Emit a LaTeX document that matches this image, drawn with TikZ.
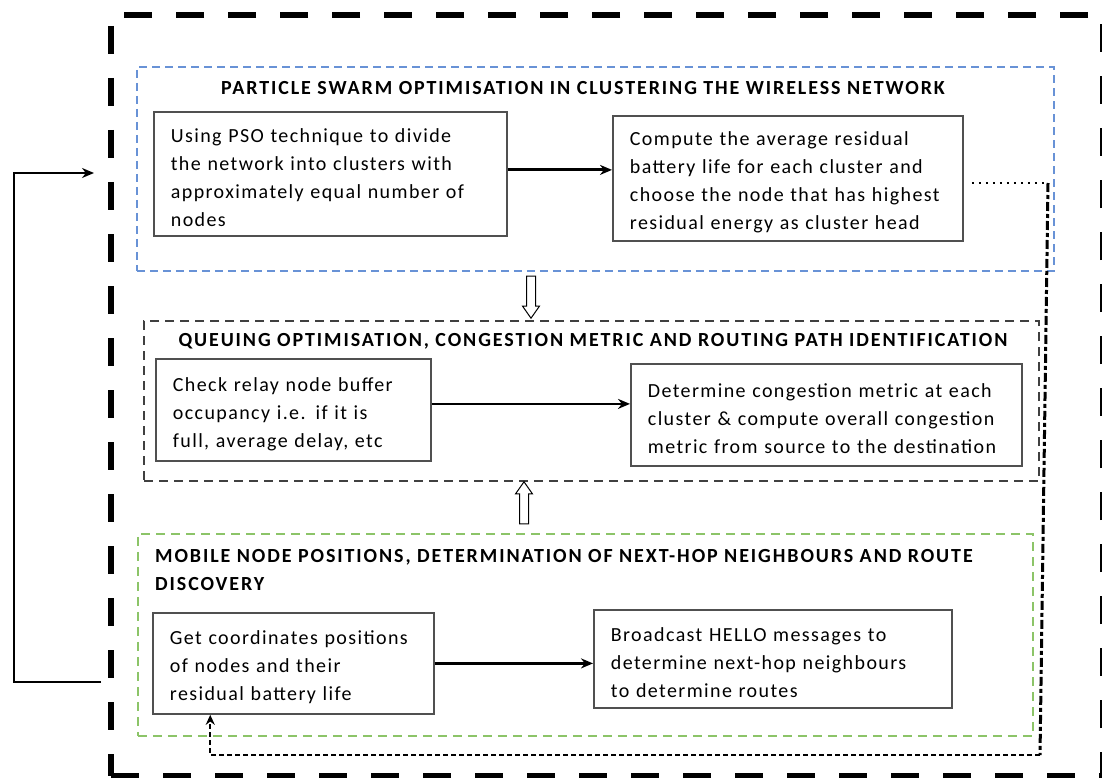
\documentclass[tikz,border=0pt]{standalone}
\usepackage{fontspec}
\setmainfont{Carlito}
\newfontfamily\bodyfont{Carlito}[LetterSpace=7]
\newfontfamily\headfont{Carlito}[LetterSpace=9.5]
\usetikzlibrary{positioning,arrows.meta,shapes.arrows,calc}
\definecolor{psoblue}{RGB}{104,146,214}
\definecolor{queuegray}{RGB}{64,64,64}
\definecolor{mobgreen}{RGB}{140,196,104}
\definecolor{boxline}{RGB}{80,80,80}

\begin{document}
\begin{tikzpicture}[x=1pt, y=-1pt, >=Stealth,
    procbox/.style={draw=boxline, line width=1.8pt, anchor=north west, inner xsep=17pt, inner ysep=0pt,
      align=left, font=\bodyfont\fontsize{20}{28}\selectfont,
      execute at begin node={\rule{0pt}{22pt}}},
    grpbox/.style={draw=#1, line width=1.6pt, dash pattern=on 8pt off 5pt, anchor=north west, inner sep=0pt},
    grptitle/.style={font=\headfont\fontsize{20}{28}\selectfont\bfseries, inner sep=0pt},
    flowarrow/.style={single arrow, draw=black, line width=1pt, minimum width=16pt,
      single arrow head extend=4pt, single arrow tip angle=70, inner xsep=0pt, inner ysep=4pt,
      minimum height=42pt},
    link/.style={-{Stealth[length=12pt,width=10pt]}, line width=2.8pt}]

\useasboundingbox (0,0) rectangle (1102,778);

% outer frame
\node[draw, line width=6pt, dash pattern=on 28pt off 24pt, anchor=north west, inner sep=0pt,
  minimum width=992pt, minimum height=761pt] (frame) at (108,12) {};

% group boxes
\node[grpbox=psoblue, minimum width=917pt, minimum height=204pt] (grpPSO) at (136,66) {};
\node[grpbox=queuegray, line width=2pt, dash pattern=on 9pt off 6pt, minimum width=895pt, minimum height=160pt] (grpQUE) at (143,320) {};
\node[grpbox=mobgreen, dash pattern=on 9pt off 6pt, minimum width=895pt, minimum height=202pt] (grpMOB) at (137,533) {};

% group titles
\node[grptitle] (psoTitle) at (583,88) {PARTICLE SWARM OPTIMISATION IN CLUSTERING THE WIRELESS NETWORK};
\node[grptitle] (queTitle) at (593,341) {QUEUING OPTIMISATION, CONGESTION METRIC AND ROUTING PATH IDENTIFICATION};
\node[grptitle, anchor=west, align=left] (mobTitle) at (155,570) {MOBILE NODE POSITIONS, DETERMINATION OF NEXT-HOP NEIGHBOURS AND ROUTE\\DISCOVERY};

% process boxes
\node[procbox, text width=319pt, minimum height=124pt] (psoDivide) at (153,111)
  {Using PSO technique to divide\\the network into clusters with\\approximately equal number of\\nodes};
\node[procbox, text width=316pt, minimum height=125pt] (psoHead) at (612,115)
  {Compute the average residual\\battery life for each cluster and\\choose the node that has highest\\residual energy as cluster head};
\node[procbox, text width=241pt, minimum height=102pt] (queBuffer) at (155,358)
  {Check relay node buffer\\occupancy i.e. if it is\\full, average delay, etc};
\node[procbox, text width=357pt, minimum height=102pt] (queMetric) at (630,363)
  {Determine congestion metric at each\\cluster \& compute overall congestion\\metric from source to the destination};
\node[procbox, text width=247pt, minimum height=101pt] (mobCoord) at (152,612)
  {Get coordinates positions\\of nodes and their\\residual battery life};
\node[procbox, text width=324pt, minimum height=98pt] (mobHello) at (593,609)
  {Broadcast HELLO messages to\\determine next-hop neighbours\\to determine routes};

% hollow flow arrows
\node[flowarrow, rotate=-90] (flowDown) at (531,294) {};
\node[flowarrow, rotate=90] (flowUp) at (524,506) {};

% links inside groups
\draw[link] ([yshift=4pt]psoDivide.east) -- ([yshift=4pt]psoDivide.east -| psoHead.west);
\draw[link] ([yshift=6pt]queBuffer.east) -- ([yshift=6pt]queBuffer.east -| queMetric.west);
\draw[link] (mobCoord.east) -- (mobCoord.east -| mobHello.west);

% feedback loop on the left
\coordinate (loopOut) at (101,682);
\coordinate (loopIn) at (94,173);
\draw[link] (loopOut) -- ++(-87,0) |- (loopIn);

% feedback loop on the right
\coordinate (fbTop) at (1048,183);
\coordinate (fbBot) at (1040,755);
\draw[line width=2.2pt, dash pattern=on 2pt off 5pt] ($(psoHead.east |- fbTop)+(8,0)$) -- (fbTop);
\draw[line width=3pt, dash pattern=on 9pt off 3pt on 4pt off 3pt] (fbTop) -- (fbBot);
\draw[-{Stealth[length=10pt,width=9pt]}, line width=2.2pt, dash pattern=on 5pt off 3pt]
  (fbBot) -| ($(mobCoord.south west)!0.206!(mobCoord.south east)$);
\end{tikzpicture}
\end{document}
